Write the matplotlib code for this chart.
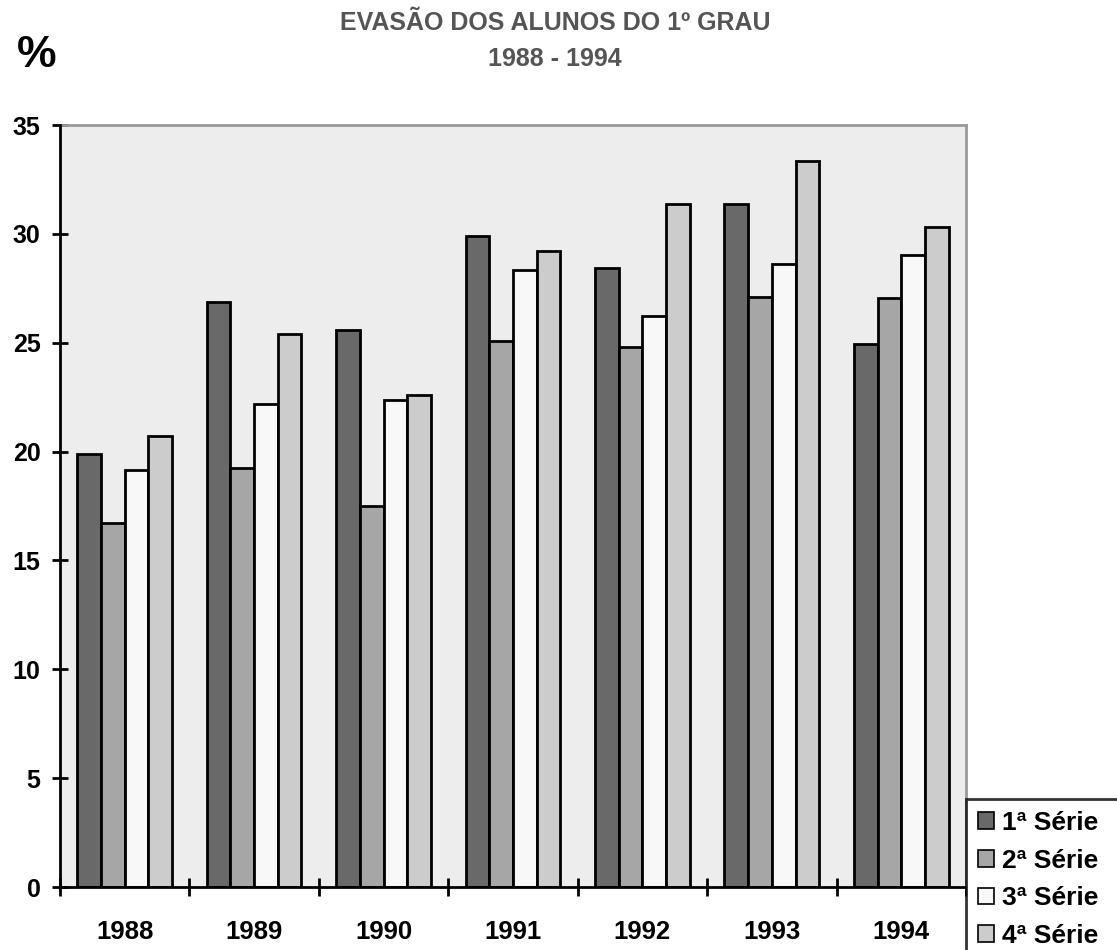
import numpy as np
import matplotlib.pyplot as plt

anos = ['1988', '1989', '1990', '1991', '1992', '1993', '1994']
serie1 = [19.9, 26.85, 25.6, 29.9, 28.45, 31.35, 24.95]
serie2 = [16.7, 19.25, 17.5, 25.1, 24.8, 27.1, 27.05]
serie3 = [19.15, 22.2, 22.35, 28.35, 26.25, 28.6, 29.05]
serie4 = [20.7, 25.4, 22.6, 29.2, 31.35, 33.35, 30.3]
nomes = ['1ª Série', '2ª Série', '3ª Série', '4ª Série']
cores = ['#696969', '#a6a6a6', '#f8f8f8', '#cccccc']

plt.rcParams['font.family'] = ['Liberation Sans', 'DejaVu Sans']
plt.rcParams['font.weight'] = 'bold'

fig = plt.figure(figsize=(11.17, 9.5), dpi=100)
ax = fig.add_axes([0.0537, 0.0663, 0.8111, 0.8021])
ax.set_facecolor('#ededed')

x = np.arange(len(anos))
w = 0.183
series = [serie1, serie2, serie3, serie4]
for i, vals in enumerate(series):
    ax.bar(x + (i - 1.5) * w, vals, w, color=cores[i], edgecolor='black',
           linewidth=2, label=nomes[i], zorder=3)

ax.set_xlim(-0.5, 6.5)
ax.set_ylim(0, 35)
ax.set_yticks(range(0, 36, 5))
ax.set_xticks(x)
ax.set_xticklabels(anos)
ax.set_xticks(np.arange(-0.5, 7, 1), minor=True)
ax.tick_params(axis='x', which='major', length=0, pad=24, labelsize=18.5)
ax.tick_params(axis='x', which='minor', direction='inout', length=13, width=2)
ax.tick_params(axis='y', direction='inout', length=12, width=2, labelsize=18, pad=8)

for s in ['left', 'bottom']:
    ax.spines[s].set_linewidth(2)
    ax.spines[s].set_color('black')
    ax.spines[s].set_zorder(4)
for s in ['top', 'right']:
    ax.spines[s].set_linewidth(2)
    ax.spines[s].set_color('#999999')

fig.text(0.497, 0.976, 'EVASÃO DOS ALUNOS DO 1º GRAU', ha='center', va='center',
         fontsize=18, fontweight='bold', color='#555555')
fig.text(0.497, 0.938, '1988 - 1994', ha='center', va='center',
         fontsize=18, fontweight='bold', color='#555555')
fig.text(0.033, 0.942, '%', ha='center', va='center', fontsize=32, fontweight='bold')

# caixa da legenda passa da borda direita, como no original
leg = fig.legend(loc='upper left', bbox_to_anchor=(0.8648, 0.1589, 0.2, 0), mode='expand',
                 fontsize=19, frameon=True, fancybox=False, handlelength=0.6,
                 handleheight=0.6, handletextpad=0.3, labelspacing=0.52,
                 borderpad=0.45, borderaxespad=0)
leg.get_frame().set_edgecolor('black')
leg.get_frame().set_linewidth(2)
for h in leg.legend_handles:
    h.set_linewidth(1.2)

plt.savefig('out.png', dpi=100)
